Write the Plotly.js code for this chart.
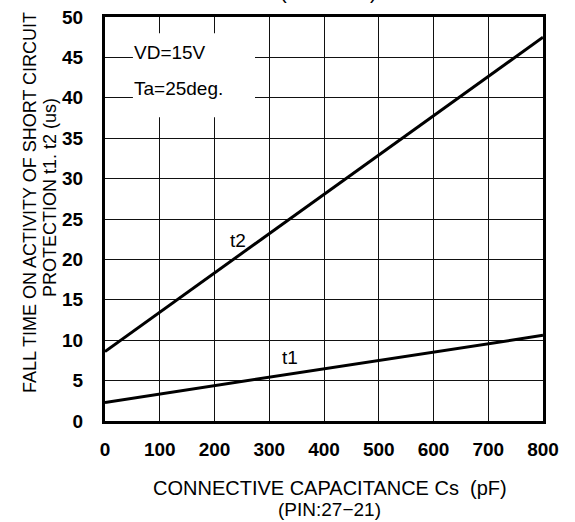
<!DOCTYPE html>
<html>
<head>
<meta charset="utf-8">
<script src="https://cdn.plot.ly/plotly-3.0.1.min.js"></script>
<style>html,body{margin:0;padding:0;background:#fff;}#chart{width:575px;height:522px;}</style>
</head>
<body>
<div id="chart"></div>
<script>
// Data
const capacitance = [0, 800];          // Cs (pF)
const t1Values = [2.3, 10.6];          // t1 (us)
const t2Values = [8.6, 47.5];          // t2 (us)
const xTicks = [0, 100, 200, 300, 400, 500, 600, 700, 800];
const yTicks = [0, 5, 10, 15, 20, 25, 30, 35, 40, 45, 50];
const seriesNames = ["t1", "t2"];
const conditionTexts = ["VD=15V", "Ta=25deg."];
const xTitleLines = ["CONNECTIVE CAPACITANCE Cs\u00a0\u00a0(pF)", "(PIN:27\u221221)"];
const yTitleLines = ["FALL TIME ON ACTIVITY OF SHORT CIRCUIT", "PROTECTION t1. t2 (us)"];
const chartTitle = "(TYPICAL)";

const FONT = "Liberation Sans, Arial, Helvetica, sans-serif";

const traces = [
  {x: capacitance, y: t1Values, name: seriesNames[0], mode: "lines",
   line: {color: "#000", width: 3}, showlegend: false, cliponaxis: true},
  {x: capacitance, y: t2Values, name: seriesNames[1], mode: "lines",
   line: {color: "#000", width: 3}, showlegend: false, cliponaxis: true}
];

const axisCommon = {
  showgrid: true, gridcolor: "#111", gridwidth: 1,
  showline: true, mirror: true, linecolor: "#000", linewidth: 3,
  zeroline: false, ticks: "",
  tickfont: {family: FONT, size: 19, color: "#000", weight: "bold"},
  fixedrange: true
};

const layout = {
  width: 575, height: 522,
  margin: {l: 105, r: 32, t: 17, b: 101},
  paper_bgcolor: "#fff", plot_bgcolor: "#fff",
  showlegend: false,
  xaxis: Object.assign({}, axisCommon, {range: [0, 800], tickvals: xTicks, ticktext: xTicks.map(String), ticklabelstandoff: 9}),
  yaxis: Object.assign({}, axisCommon, {range: [0, 50], tickvals: yTicks, ticktext: yTicks.map(String), ticklabelstandoff: 15}),
  shapes: [
    {type: "rect", xref: "x", yref: "y", x0: 51, x1: 274, y0: 37.6, y1: 48.0,
     fillcolor: "#fff", line: {width: 0}, layer: "above"}
  ],
  annotations: [
    {text: conditionTexts[0], xref: "x", yref: "y", x: 50, y: 45.6, xanchor: "left", yanchor: "middle",
     showarrow: false, font: {family: FONT, size: 19, color: "#000"}},
    {text: conditionTexts[1], xref: "x", yref: "y", x: 50, y: 41.1, xanchor: "left", yanchor: "middle",
     showarrow: false, font: {family: FONT, size: 19, color: "#000"}},
    {text: seriesNames[1], xref: "x", yref: "y", x: 243, y: 22.4, xanchor: "center", yanchor: "middle",
     showarrow: false, font: {family: FONT, size: 19, color: "#000"}},
    {text: seriesNames[0], xref: "x", yref: "y", x: 338, y: 7.9, xanchor: "center", yanchor: "middle",
     showarrow: false, font: {family: FONT, size: 19, color: "#000"}},
    {text: xTitleLines[0], xref: "paper", yref: "paper", x: (330 - 105) / 438, y: (421 - 488) / 404,
     xanchor: "center", yanchor: "middle", showarrow: false, font: {family: FONT, size: 20, color: "#000"}},
    {text: xTitleLines[1], xref: "paper", yref: "paper", x: (329 - 105) / 438, y: (421 - 509) / 404,
     xanchor: "center", yanchor: "middle", showarrow: false, font: {family: FONT, size: 19, color: "#000"}},
    {text: yTitleLines[0], xref: "paper", yref: "paper", x: (30 - 105) / 438, y: (421 - 203) / 404,
     xanchor: "center", yanchor: "middle", textangle: -90, showarrow: false, font: {family: FONT, size: 18, color: "#000"}},
    {text: yTitleLines[1], xref: "paper", yref: "paper", x: (50 - 105) / 438, y: (421 - 198) / 404,
     xanchor: "center", yanchor: "middle", textangle: -90, showarrow: false, font: {family: FONT, size: 18, color: "#000"}},
    {text: chartTitle, xref: "paper", yref: "paper", x: (328 - 105) / 438, y: 1, yshift: 12,
     xanchor: "center", yanchor: "bottom", showarrow: false, font: {family: FONT, size: 20, color: "#000"}}
  ]
};

Plotly.newPlot("chart", traces, layout, {displayModeBar: false, staticPlot: true});
</script>
</body>
</html>
